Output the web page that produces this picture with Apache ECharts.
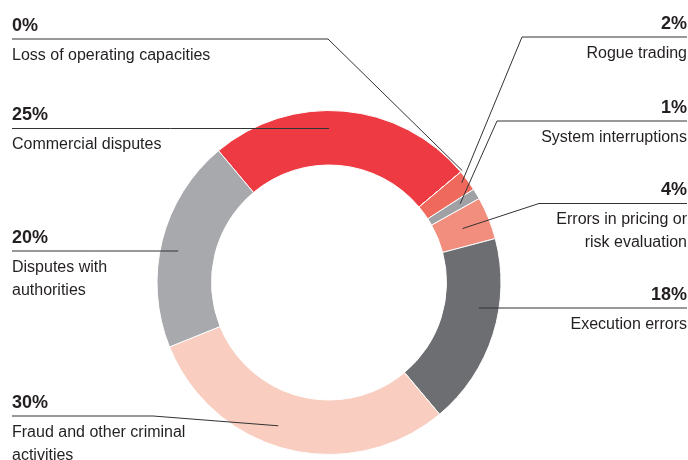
<!DOCTYPE html>
<html>
<head>
<meta charset="utf-8">
<script src="https://cdn.jsdelivr.net/npm/echarts@6/dist/echarts.min.js"></script>
<style>
  html, body { margin: 0; padding: 0; background: #fff; }
  #chart { width: 688px; height: 460px; }
</style>
</head>
<body>
<div id="chart"></div>
<script>
// ---- data ----
const categories = [
  'Commercial disputes',
  'Loss of operating capacities',
  'Rogue trading',
  'System interruptions',
  'Errors in pricing or risk evaluation',
  'Execution errors',
  'Fraud and other criminal activities',
  'Disputes with authorities'
];
const values = [25, 0, 2, 1, 4, 18, 30, 20];
const labelTexts = [
  'Commercial disputes',
  'Loss of operating capacities',
  'Rogue trading',
  'System interruptions',
  'Errors in pricing or\nrisk evaluation',
  'Execution errors',
  'Fraud and other criminal\nactivities',
  'Disputes with\nauthorities'
];

// ---- styles / layout ----
const colors = ['#ee3b43', '#ee3b43', '#f0695d', '#a0a1a5', '#f28e7d', '#6d6e72', '#f9cdbf', '#a8a9ad'];
const CX = 329, CY = 282.5, R_IN = 117.5, R_OUT = 172;
const FONT = '"Liberation Sans Narrow", "Arial Narrow", "Liberation Sans", Arial, sans-serif';
// label placement: side, y of leader line, elbow x (none = straight), anchor radius, angle shift
const labelPlacement = [
  { side: 'left',  lineY: 128.5, r: 154 },
  { side: 'left',  lineY: 39,    elbowX: 328, r: 174 },
  { side: 'right', lineY: 37,    elbowX: 522, r: 166, da: -0.5 },
  { side: 'right', lineY: 121,   elbowX: 497, r: 153 },
  { side: 'right', lineY: 203.5, elbowX: 539, r: 144 },
  { side: 'right', lineY: 308,   r: 152 },
  { side: 'left',  lineY: 416,   elbowX: 153, r: 152, da: 5.5 },
  { side: 'left',  lineY: 251,   r: 154 }
];
const LEFT_X = 12, RIGHT_X = 687, LABEL_TOP_OFFSET = 31;

const chart = echarts.init(document.getElementById('chart'), null, { renderer: 'canvas' });

const basePie = {
  type: 'pie',
  center: [CX, CY],
  radius: [R_IN, R_OUT],
  startAngle: 130,
  clockwise: true,
  avoidLabelOverlap: false,
  silent: true,
  emphasis: { disabled: true, scale: false }
};

const option = {
  animation: false,
  backgroundColor: '#ffffff',
  series: [
    // the ring itself
    Object.assign({}, basePie, {
      z: 1,
      itemStyle: { borderColor: '#ffffff', borderWidth: 1 },
      data: categories.map((c, i) => ({ name: c, value: values[i], itemStyle: { color: colors[i] } })),
      label: { show: false },
      labelLine: { show: false }
    }),
    // same ring, transparent, carrying the labels so leader lines sit above the slices
    Object.assign({}, basePie, {
      z: 2,
      itemStyle: { color: 'rgba(0,0,0,0)', borderWidth: 0 },
      data: categories.map((c, i) => ({ name: c, value: values[i] })),
      label: {
        show: true,
        position: 'outside',
        formatter: (p) => '{p|' + p.value + '%}\n{n|' + labelTexts[p.dataIndex] + '}',
        rich: {
          p: { fontFamily: FONT, fontSize: 18, fontWeight: 'bold', color: '#231f20', lineHeight: 36 },
          n: { fontFamily: FONT, fontSize: 16, color: '#231f20', lineHeight: 23 }
        }
      },
      labelLine: {
        show: true,
        showAbove: true,
        length: 10,
        length2: 10,
        lineStyle: { color: '#333333', width: 1, opacity: 1 }
      },
      labelLayout: function (params) {
        const cfg = labelPlacement[params.dataIndex];
        const p0 = params.labelLinePoints[0];
        // mid-angle of the slice (clockwise from 12 o'clock), from the library's own leader start point
        let ang = Math.atan2(p0[0] - CX, CY - p0[1]);
        ang += (cfg.da || 0) * Math.PI / 180;
        let anchor, pts;
        const endX = cfg.side === 'left' ? LEFT_X : RIGHT_X;
        if (cfg.elbowX == null) {
          const dy = cfg.lineY - CY;
          const s = Math.sin(ang) >= 0 ? 1 : -1;
          anchor = [CX + s * Math.sqrt(Math.max(0, cfg.r * cfg.r - dy * dy)), cfg.lineY];
          pts = [anchor, [(anchor[0] + endX) / 2, cfg.lineY], [endX, cfg.lineY]];
        } else {
          anchor = [CX + cfg.r * Math.sin(ang), CY - cfg.r * Math.cos(ang)];
          pts = [anchor, [cfg.elbowX, cfg.lineY], [endX, cfg.lineY]];
        }
        return {
          x: endX,
          y: cfg.lineY - LABEL_TOP_OFFSET,
          align: cfg.side === 'left' ? 'left' : 'right',
          verticalAlign: 'top',
          labelLinePoints: pts
        };
      }
    })
  ]
};
chart.setOption(option);
</script>
</body>
</html>
